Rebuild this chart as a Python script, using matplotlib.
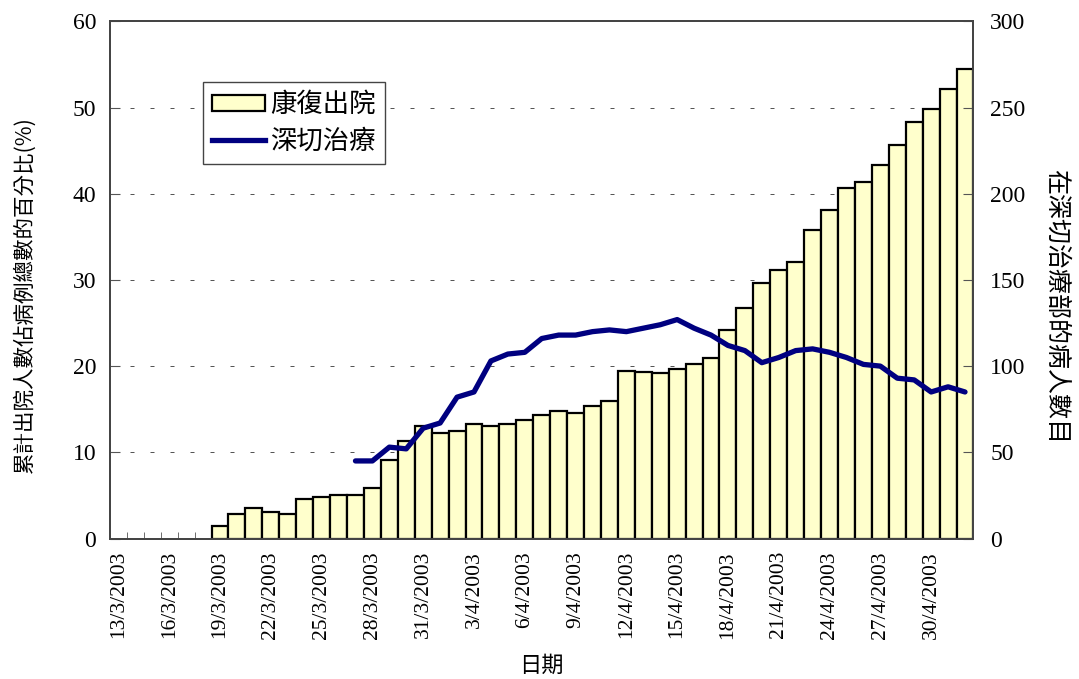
import numpy as np
import pandas as pd
import matplotlib
matplotlib.use("Agg")
import matplotlib.pyplot as plt
from matplotlib.patches import Patch
from matplotlib.lines import Line2D

SERIF = ["Liberation Serif", "DejaVu Serif"]
CJK = ["Noto Sans CJK TC", "DejaVu Sans"]

# --- data ---
dates = pd.date_range("2003-03-13", "2003-05-02", freq="D")
date_labels = [f"{d.day}/{d.month}/{d.year}" for d in dates]

# cumulative discharged as % of total cases, 19/3 .. 2/5
discharged_start = "2003-03-19"
discharged = [1.4, 2.9, 3.5, 3.1, 2.8, 4.6, 4.8, 5.0, 5.1, 5.9,
              9.1, 11.3, 13.0, 12.2, 12.5, 13.3, 13.0, 13.3, 13.7, 14.3,
              14.8, 14.6, 15.4, 15.9, 19.4, 19.3, 19.2, 19.7, 20.2, 20.9,
              24.2, 26.7, 29.6, 31.1, 32.1, 35.8, 38.1, 40.7, 41.4, 43.3,
              45.6, 48.3, 49.8, 52.1, 54.5]

# patients in intensive care, 27/3 .. 2/5
icu_start = "2003-03-27"
icu = [45, 45, 53, 52, 64, 67, 82, 85, 103, 107,
       108, 116, 118, 118, 120, 121, 120, 122, 124, 127,
       122, 118, 112, 109, 102, 105, 109, 110, 108, 105,
       101, 100, 93, 92, 85, 88, 85]

left_ticks = [0, 10, 20, 30, 40, 50, 60]
right_ticks = [0, 50, 100, 150, 200, 250, 300]

BAR_COLOR = "#FFFFCC"
LINE_COLOR = "#000080"

# --- figure ---
fig = plt.figure(figsize=(10.79, 6.79), dpi=100)
ax = fig.add_axes([0.1019, 0.2069, 0.8003, 0.7617])
ax2 = ax.twinx()

x = np.arange(len(dates))
i0 = list(dates).index(pd.Timestamp(discharged_start))
j0 = list(dates).index(pd.Timestamp(icu_start))

ax.bar(x[i0:i0 + len(discharged)], discharged, width=1.0, color=BAR_COLOR,
       edgecolor="black", linewidth=1.6, zorder=2)
ax2.plot(x[j0:j0 + len(icu)], icu, color=LINE_COLOR, lw=3.8,
         solid_joinstyle="round", solid_capstyle="round")

ax.set_xlim(-0.5, len(dates) - 0.5)
ax.set_ylim(0, 60)
ax2.set_ylim(0, 300)
ax.set_yticks(left_ticks)
ax2.set_yticks(right_ticks)

# dashed grid behind the bars
ax.set_axisbelow(True)
ax.yaxis.grid(True, color="#555555", lw=0.72, dashes=(4, 16))

# category axis: labels every 3 days, ticks at boundaries
ax.set_xticks(x[::3])
ax.set_xticklabels(date_labels[::3], rotation=90, fontsize=15.5, family=SERIF)
ax.set_xticks(x[:-1] + 0.5, minor=True)
ax.tick_params(axis="x", which="major", length=0, pad=9)
ax.tick_params(axis="x", which="minor", direction="in", length=5, color="#555555")
ax.tick_params(axis="y", direction="in", length=7, color="#555555", pad=10)
ax2.tick_params(axis="y", direction="in", length=7, color="#555555", pad=12)
for lab in ax.get_yticklabels() + ax2.get_yticklabels():
    lab.set_family(SERIF)
    lab.set_fontsize(17)

for a in (ax, ax2):
    for s in a.spines.values():
        s.set_color("#444444")
        s.set_linewidth(1.3)

ax.set_ylabel("累計出院人數佔病例總數的百分比(%)", family=CJK, fontsize=15.5,
              va="center")
ax.yaxis.set_label_coords(-0.0985, 0.471)
ax2.set_ylabel("在深切治療部的病人數目", family=CJK, fontsize=18, rotation=270,
               va="center")
ax2.yaxis.set_label_coords(1.0955, 0.448)
ax.set_xlabel("日期", family=CJK, fontsize=16, labelpad=11)

handles = [Patch(facecolor=BAR_COLOR, edgecolor="black", linewidth=1.6),
           Line2D([0], [0], color=LINE_COLOR, lw=3.8)]
leg = ax2.legend(handles, ["康復出院", "深切治療"], loc="upper left",
                 bbox_to_anchor=(203 / 1079, 1 - 82 / 679),
                 bbox_transform=fig.transFigure, borderaxespad=0,
                 prop={"family": CJK, "size": 19}, fancybox=False,
                 framealpha=1, edgecolor="#444444", handlelength=2.0,
                 handleheight=0.6, handletextpad=0.2, borderpad=0.35,
                 labelspacing=0.35)
leg.get_frame().set_linewidth(1.0)

fig.savefig("out.png", dpi=100)
